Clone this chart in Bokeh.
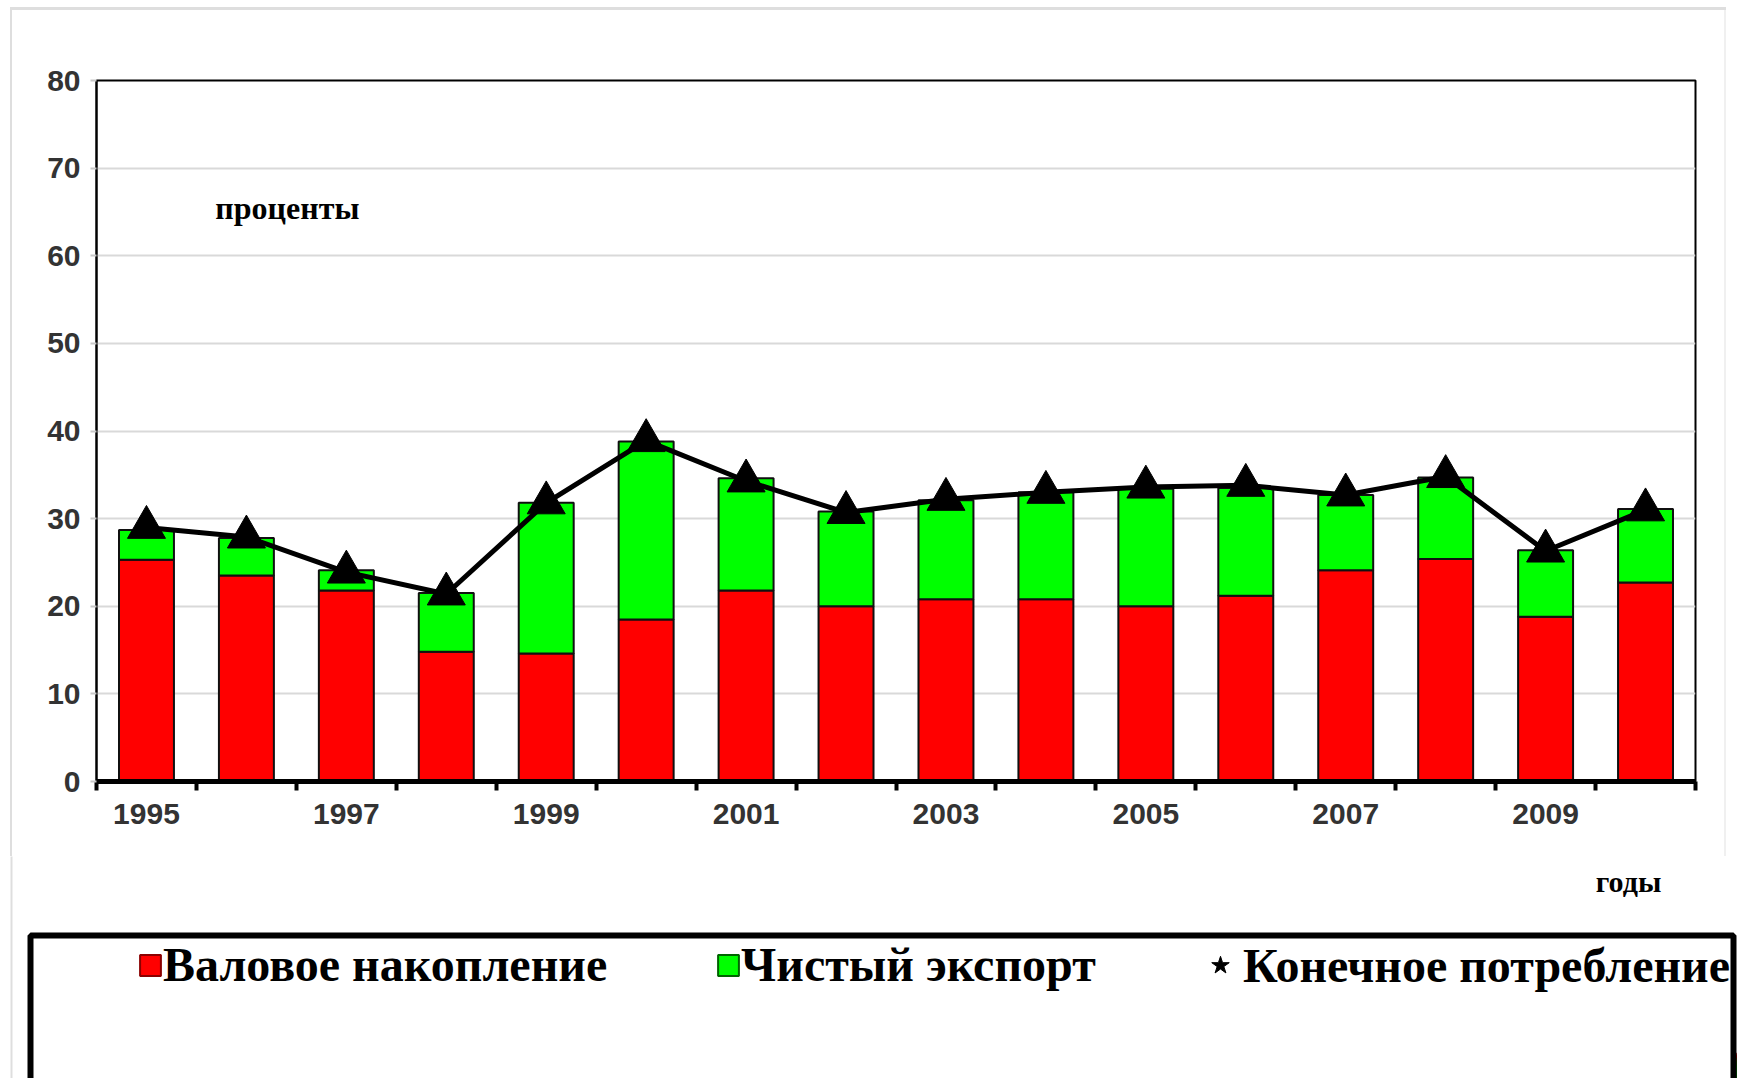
from bokeh.plotting import figure
from bokeh.layouts import column
from bokeh.models import (ColumnDataSource, FixedTicker, Label, BoxAnnotation,
                          Legend, LegendItem, Range1d)
from bokeh.embed import file_html
from bokeh.resources import INLINE

# ---- data (percent) ----
years = [1995, 1996, 1997, 1998, 1999, 2000, 2001, 2002,
         2003, 2004, 2005, 2006, 2007, 2008, 2009, 2010]
gross_accumulation = [25.3, 23.5, 21.8, 14.8, 14.6, 18.5, 21.8, 20.0,
                      20.8, 20.8, 20.0, 21.2, 24.1, 25.4, 18.8, 22.7]
net_export = [3.4, 4.3, 2.3, 6.7, 17.2, 20.3, 12.8, 10.8,
              11.3, 12.2, 13.4, 12.3, 8.6, 9.3, 7.6, 8.4]
final_consumption = [29.0, 27.9, 23.9, 21.4, 31.8, 38.9, 34.3, 30.7,
                     32.2, 33.0, 33.6, 33.8, 32.7, 34.8, 26.3, 31.0]
x_tick_labels = [1995, 1997, 1999, 2001, 2003, 2005, 2007, 2009]
y_ticks = [0, 10, 20, 30, 40, 50, 60, 70, 80]
series_names = ["Валовое накопление", "Чистый экспорт", "Конечное потребление"]
RED, GREEN = "#ff0000", "#00ff00"

src = ColumnDataSource(dict(year=years, acc=gross_accumulation, exp=net_export,
                            cons=final_consumption))

W, H1, H2 = 1737, 856, 222
GRAY = "#dedede"

# ================= chart figure =================
p = figure(width=W, height=H1,
           x_range=Range1d(years[0] - 0.5, years[-1] + 0.5),
           y_range=Range1d(y_ticks[0], y_ticks[-1]),
           output_backend="svg", toolbar_location=None,
           min_border_left=96, min_border_right=42,
           min_border_top=80, min_border_bottom=75)
p.background_fill_color = "white"
p.border_fill_color = None
p.outline_line_color = "black"
p.outline_line_width = 2
p.styles = {
    "background-color": "white",
    "background-image": "linear-gradient(%s,%s), linear-gradient(%s,%s), linear-gradient(%s,%s)"
                        % (GRAY, GRAY, GRAY, GRAY, "#f0f0f0", "#f0f0f0"),
    "background-size": "1716px 3px, 2px 100%, 2px 100%",
    "background-position": "10px 7px, 10px 7px, 1724px 7px",
    "background-repeat": "no-repeat",
}

p.vbar_stack(["acc", "exp"], x="year", width=0.55, source=src,
             fill_color=[RED, GREEN], line_color="#101010", line_width=2)
p.line("year", "cons", source=src, line_color="black", line_width=5)
p.scatter("year", "cons", source=src, marker="triangle", size=38,
          fill_color="black", line_color="black")

# x axis
xa = p.xaxis[0]
xa.ticker = FixedTicker(ticks=x_tick_labels,
                        minor_ticks=[y - 0.5 for y in years] + [years[-1] + 0.5])
xa.major_tick_line_color = None
xa.major_tick_out = 8
xa.major_tick_in = 0
xa.minor_tick_out = 9
xa.minor_tick_in = 0
xa.minor_tick_line_width = 4
xa.minor_tick_line_color = "black"
xa.axis_line_width = 5
xa.axis_line_color = "black"
xa.major_label_standoff = 13
xa.major_label_text_font = "Liberation Sans"
xa.major_label_text_font_style = "bold"
xa.major_label_text_font_size = "30px"
xa.major_label_text_color = "#333333"

# y axis
ya = p.yaxis[0]
ya.ticker = FixedTicker(ticks=y_ticks)
ya.axis_line_color = "black"
ya.axis_line_width = 2
ya.major_tick_out = 6
ya.major_tick_in = 0
ya.major_tick_line_color = "#c8c8c8"
ya.major_tick_line_width = 2
ya.minor_tick_line_color = None
ya.major_label_standoff = 10
ya.major_label_text_font = "Liberation Sans"
ya.major_label_text_font_style = "bold"
ya.major_label_text_font_size = "30px"
ya.major_label_text_color = "#333333"

p.xgrid.visible = False
p.ygrid.ticker = FixedTicker(ticks=y_ticks)
p.ygrid.grid_line_color = "#d9d9d9"
p.ygrid.grid_line_width = 2

p.add_layout(Label(x=1996.41, y=65.4, text="проценты", text_align="center",
                   text_baseline="middle", text_font="Liberation Serif",
                   text_font_style="bold", text_font_size="32px", text_color="black"))

# ================= legend / footer figure =================
q = figure(width=W, height=H2, x_range=Range1d(0, W), y_range=Range1d(0, H2),
           output_backend="svg", toolbar_location=None,
           x_axis_location=None, y_axis_location=None, min_border=0,
           min_border_left=0, min_border_right=0, min_border_top=0,
           min_border_bottom=0)
for fig in (p, q):
    if "frame_align" in fig.properties():
        fig.frame_align = False
q.background_fill_color = None
q.border_fill_color = None
q.outline_line_color = None
q.xgrid.visible = False
q.ygrid.visible = False
q.styles = {"background-color": "white"}

# legend proxies: the series' own values, which lie outside this panel's x range
red_proxy = q.vbar(x=years, top=gross_accumulation, width=0.5,
                   fill_color=RED, line_color="#8b0000", line_width=2)
green_proxy = q.vbar(x=years, top=net_export, width=0.5,
                     fill_color=GREEN, line_color="#006400", line_width=2)
star_proxy = q.scatter(x=years, y=final_consumption, marker="star",
                       fill_color="black", line_color="black")

q.add_layout(BoxAnnotation(left=11, right=3000, top=H2 + 100, bottom=-100,
                           fill_alpha=0, line_color=GRAY, line_alpha=1,
                           line_width=2))
q.add_layout(Label(x=1628, y=H2 - 25, text="годы", text_align="center",
                   text_baseline="middle", text_font="Liberation Serif",
                   text_font_style="bold", text_font_size="30px", text_color="black"))
q.add_layout(BoxAnnotation(left=30, right=1733, top=H2 - 79, bottom=-100,
                           fill_color="white", fill_alpha=1, line_color="black",
                           line_alpha=1, line_width=6))

def make_legend(label, rend, loc, gw, gh, baseline):
    return Legend(items=[LegendItem(label=label, renderers=[rend])],
                  location=loc, orientation="horizontal",
                  border_line_color=None, background_fill_alpha=0,
                  glyph_width=gw, glyph_height=gh, label_height=gh,
                  label_standoff=0, label_text_baseline=baseline,
                  label_text_font="Liberation Serif", label_text_font_style="bold",
                  label_text_font_size="48px", label_text_color="black",
                  padding=0, margin=0, spacing=0)

q.add_layout(make_legend(series_names[0], red_proxy, (137, 86), 26, 26, "alphabetic"))
q.add_layout(make_legend(series_names[1], green_proxy, (715, 86), 26, 26, "alphabetic"))
q.add_layout(make_legend(series_names[2], star_proxy, (1197, 85), 46, 56, "middle"))

open("out.html", "w").write(file_html(column(p, q, spacing=0), INLINE))
